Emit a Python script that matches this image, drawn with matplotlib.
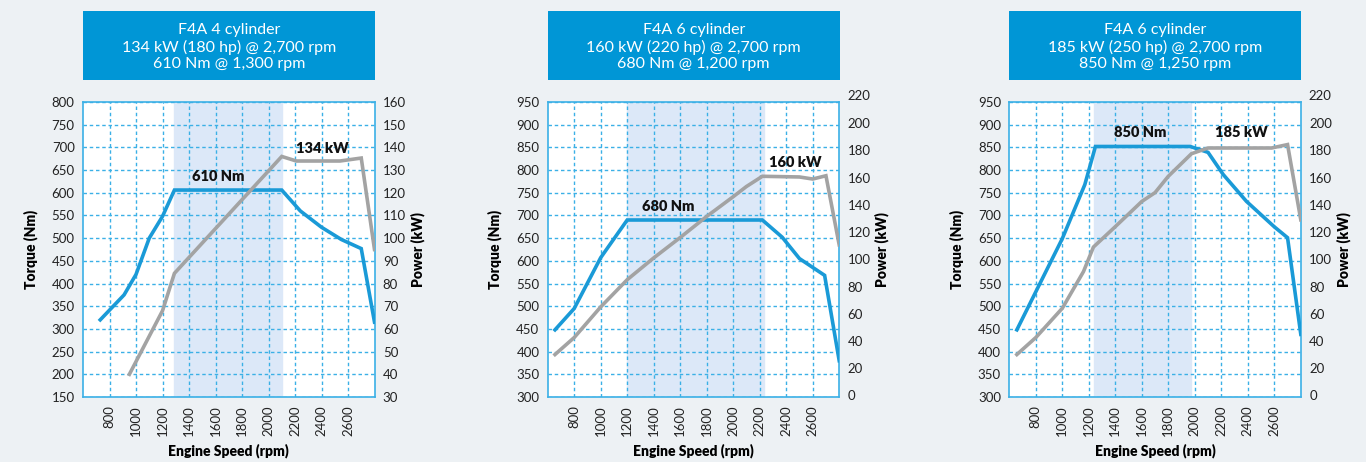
import matplotlib.pyplot as plt
from matplotlib.patches import Rectangle

plt.rcParams['font.family'] = ['Lato', 'DejaVu Sans']

# 数据：三台发动机的扭矩/功率曲线
titles = ["F4A 4 cylinder\n134 kW (180 hp) @ 2,700 rpm\n610 Nm @ 1,300 rpm",
          "F4A 6 cylinder\n160 kW (220 hp) @ 2,700 rpm\n680 Nm @ 1,200 rpm",
          "F4A 6 cylinder\n185 kW (250 hp) @ 2,700 rpm\n850 Nm @ 1,250 rpm"]

rpm_t1 = [730, 910, 1000, 1100, 1200, 1290, 2100, 2240, 2400, 2550, 2700, 2800]
torque1 = [320, 375, 420, 500, 548, 606, 606, 560, 524, 497, 477, 315]
rpm_p1 = [950, 1200, 1290, 2100, 2210, 2540, 2700, 2800]
power1 = [40, 68, 84.5, 136, 134, 134, 135.3, 95]

rpm_t2 = [655, 800, 1000, 1200, 2220, 2370, 2500, 2690, 2800]
torque2 = [448, 495, 607, 690, 690, 652, 605, 568, 380]
rpm_p2 = [655, 800, 1000, 1200, 1400, 1600, 1800, 2000, 2100, 2220, 2500, 2600, 2700, 2800]
power2 = [30, 42.5, 65, 85, 101, 116, 131.5, 146, 153.5, 161, 160.5, 159, 161.4, 110.6]

rpm_t3 = [657, 1000, 1170, 1250, 1965, 2100, 2215, 2390, 2600, 2700, 2800]
torque3 = [448, 649, 768, 852, 852, 839, 790, 731, 675, 651, 438]
rpm_p3 = [657, 800, 1000, 1160, 1235, 1400, 1600, 1700, 1800, 1975, 2100, 2580, 2700, 2800]
power3 = [30, 42.5, 64, 91, 109, 124, 142.5, 149, 161, 177.6, 181.8, 181.8, 184.3, 129]

torque_labels = ["610 Nm", "680 Nm", "850 Nm"]
power_labels = ["134 kW", "160 kW", "185 kW"]
torque_label_pos = [(1620, 635), (1510, 719), (1590, 883)]
power_label_pos = [(2410, 139.7), (2470, 171), (2350, 193.3)]
shade = [(1290, 2100), (1200, 2230), (1240, 1970)]

torque_ylim = [(150, 800), (300, 950), (300, 950)]
power_ylim = [(30, 160), (-1.2, 215.6), (-1.2, 215.6)]
power_ticks = [range(30, 161, 10), range(0, 201, 20), range(0, 201, 20)]
torque_ticks = [range(150, 801, 50), range(300, 951, 50), range(300, 951, 50)]
xticks = list(range(800, 2601, 200))

rpm_t = [rpm_t1, rpm_t2, rpm_t3]
torque = [torque1, torque2, torque3]
rpm_p = [rpm_p1, rpm_p2, rpm_p3]
power = [power1, power2, power3]

bg = '#EDF1F4'
blue = '#1A9AD7'
grid_c = '#3BB0E6'
gray = '#A3A3A3'
box = '#0096D6'

fig = plt.figure(figsize=(13.66, 4.62), dpi=100, facecolor=bg)
lefts = [83, 547.7, 1009.3]
W, H = 1366, 462

for i in range(3):
    l = lefts[i] / W
    ax = fig.add_axes([l, 1 - 397 / H, 291.5 / W, 295 / H])
    ax.set_facecolor('white')
    ax.set_xlim(600, 2800)
    ax.set_ylim(*torque_ylim[i])
    ax.axvspan(shade[i][0], shade[i][1], color='#DCE8F8', zorder=0)
    ax.set_xticks(xticks)
    ax.set_xticklabels([str(x) for x in xticks], rotation=90, fontsize=9.5, color='#222222')
    ax.set_yticks(list(torque_ticks[i]))
    ax.tick_params(axis='both', length=0, labelsize=9.5, colors='#222222', pad=6)
    ax.grid(True, color=grid_c, linestyle=(0, (2.5, 2)), linewidth=1.0)
    ax.set_axisbelow(True)
    for s in ax.spines.values():
        s.set_color(grid_c)
        s.set_linewidth(1.2)
    ax.set_ylabel("Torque (Nm)", fontsize=10, fontweight='heavy', labelpad=10)
    ax.set_xlabel("Engine Speed (rpm)", fontsize=10, fontweight='heavy', labelpad=5)
    ax.plot(rpm_t[i], torque[i], color=blue, linewidth=2.6, solid_joinstyle='miter', zorder=4)
    ax.text(*torque_label_pos[i], torque_labels[i], fontsize=10.5, fontweight='heavy',
            ha='center', va='center', color='#111111', zorder=6)

    ax2 = ax.twinx()
    ax2.set_ylim(*power_ylim[i])
    ax2.set_yticks(list(power_ticks[i]))
    ax2.tick_params(axis='y', length=0, labelsize=9.5, colors='#222222', pad=6)
    for s in ax2.spines.values():
        s.set_visible(False)
    ax2.set_ylabel("Power (kW)", fontsize=10, fontweight='heavy', labelpad=3)
    if i > 0:
        ax2.text(1.0 + 8 / 291.5, 220, "220", transform=ax2.get_yaxis_transform(),
                 fontsize=9.5, color='#222222', va='center', ha='left', clip_on=False)
    ax2.plot(rpm_p[i], power[i], color=gray, linewidth=2.6, solid_joinstyle='miter', zorder=3)
    ax2.text(*power_label_pos[i], power_labels[i], fontsize=10.5, fontweight='heavy',
             ha='center', va='center', color='#111111', zorder=6)

    # 标题框
    bx = fig.add_axes([l, 1 - 80 / H, 292 / W, 69 / H])
    bx.axis('off')
    bx.add_patch(Rectangle((0, 0), 1, 1, color=box, transform=bx.transAxes))
    bx.text(0.5, 0.48, titles[i], color='white', fontsize=11.5, ha='center', va='center',
            linespacing=1.2)

plt.savefig("out.png", dpi=100, facecolor=bg)
